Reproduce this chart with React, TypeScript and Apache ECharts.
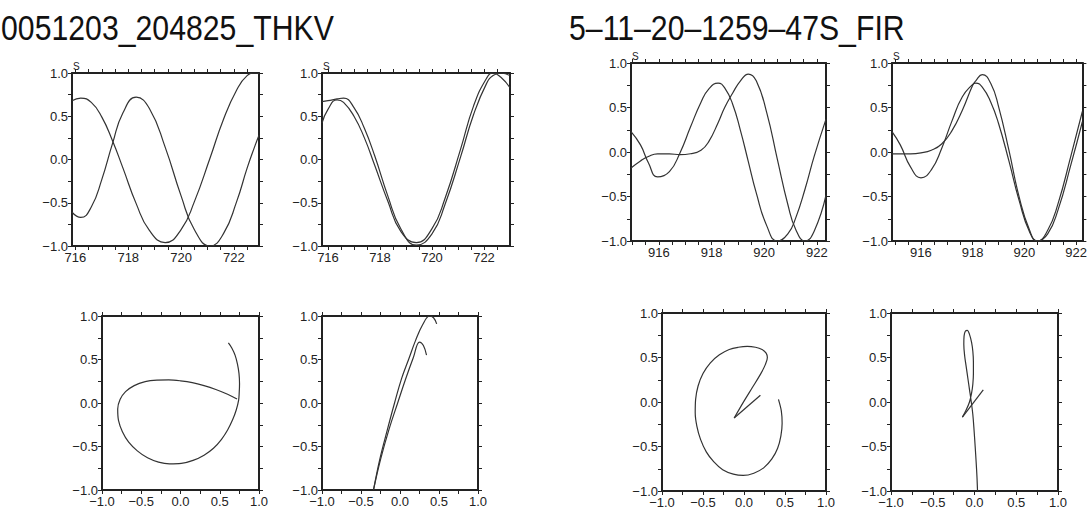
import React, { useEffect, useRef } from "react";
import * as echarts from "echarts";

// ---------------- data ----------------
const titleLeft = "0051203_204825_THKV";
const titleRight = "5–11–20–1259–47S_FIR";
const cornerLabel = "S";

// top-left panel (time vs amplitude)
const p1Time = [715.87, 716.2, 716.6, 717.0, 717.4, 717.8, 718.3, 718.8, 719.4, 720.0, 720.5, 721.1, 721.6, 722.1, 722.5, 722.8, 722.95];
const p1A = [0.68, 0.71, 0.66, 0.49, 0.22, -0.1, -0.51, -0.82, -0.96, -0.81, -0.49, 0.02, 0.46, 0.8, 0.97, 1.0, 0.99];
const p1B = [-0.61, -0.67, -0.55, -0.23, 0.18, 0.54, 0.72, 0.59, 0.14, -0.42, -0.81, -1.0, -0.86, -0.49, -0.1, 0.16, 0.28];

// top panel 2
const p2Time = [715.77, 716.0, 716.35, 716.6, 717.0, 717.4, 717.8, 718.3, 718.8, 719.4, 720.0, 720.5, 721.1, 721.6, 722.1, 722.35, 722.65, 723.0];
const p2A = [0.67, 0.68, 0.7, 0.71, 0.6, 0.36, 0.04, -0.42, -0.8, -0.99, -0.86, -0.52, 0.03, 0.52, 0.88, 0.97, 1.0, 0.97];
const p2B = [0.42, 0.58, 0.69, 0.66, 0.5, 0.25, -0.07, -0.48, -0.83, -0.96, -0.8, -0.45, 0.12, 0.62, 0.94, 1.0, 0.95, 0.83];

// top panel 3
const p3Time = [914.94, 915.3, 915.6, 915.95, 916.4, 916.8, 917.2, 917.6, 917.9, 918.25, 918.5, 918.8, 919.1, 919.4, 919.7, 920.1, 920.5, 920.9, 921.2, 921.56, 921.9, 922.35];
const p3A = [0.23, 0.08, -0.12, -0.28, -0.22, -0.01, 0.28, 0.56, 0.71, 0.775, 0.72, 0.54, 0.24, -0.11, -0.46, -0.83, -1.0, -0.92, -0.74, -0.41, -0.05, 0.37];
const p3B = [-0.18, -0.1, -0.05, -0.02, -0.02, -0.03, -0.02, 0.02, 0.12, 0.33, 0.5, 0.66, 0.8, 0.876, 0.8, 0.44, -0.08, -0.59, -0.87, -1.0, -0.89, -0.485];

// top panel 4
const p4Time = [914.88, 915.2, 915.6, 916.0, 916.4, 916.8, 917.2, 917.6, 918.0, 918.12, 918.37, 918.7, 919.0, 919.4, 919.8, 920.2, 920.5, 920.9, 921.3, 921.8, 922.24];
const p4A = [0.23, 0.08, -0.17, -0.29, -0.2, 0.04, 0.35, 0.62, 0.76, 0.775, 0.73, 0.56, 0.32, -0.1, -0.55, -0.9, -1.0, -0.88, -0.58, -0.04, 0.455];
const p4B = [-0.02, -0.02, -0.02, -0.01, 0.02, 0.09, 0.24, 0.47, 0.75, 0.8, 0.87, 0.77, 0.51, 0.02, -0.51, -0.88, -1.0, -0.92, -0.65, -0.14, 0.34];

// bottom panel 5 (particle motion)
const p5H = [0.61, 0.655, 0.695, 0.725, 0.745, 0.752, 0.748, 0.74, 0.71, 0.665, 0.6, 0.52, 0.42, 0.3, 0.16, 0.01, -0.14, -0.28, -0.42, -0.55, -0.66, -0.74, -0.79, -0.8, -0.77, -0.7, -0.59, -0.45, -0.3, -0.15, 0.0, 0.15, 0.3, 0.45, 0.6, 0.72];
const p5V = [0.69, 0.63, 0.55, 0.45, 0.34, 0.22, 0.12, 0.03, -0.08, -0.19, -0.31, -0.42, -0.52, -0.6, -0.66, -0.695, -0.7, -0.68, -0.63, -0.55, -0.45, -0.33, -0.2, -0.07, 0.04, 0.13, 0.2, 0.245, 0.262, 0.265, 0.255, 0.235, 0.2, 0.155, 0.1, 0.045];

// bottom panel 6
const p6H1 = [-0.34, -0.26, -0.16, -0.07, 0.02, 0.11, 0.2, 0.29, 0.38, 0.43, 0.47];
const p6V1 = [-1.0, -0.65, -0.3, 0.0, 0.28, 0.5, 0.72, 0.9, 1.0, 0.98, 0.91];
const p6H2 = [-0.34, -0.25, -0.14, -0.03, 0.07, 0.17, 0.25, 0.3, 0.34];
const p6V2 = [-1.0, -0.65, -0.3, 0.0, 0.27, 0.52, 0.7, 0.66, 0.55];

// bottom panel 7
const p7H1 = [0.2, -0.12];
const p7V1 = [0.075, -0.18];
const p7H2 = [-0.12, 0.0, 0.1, 0.2, 0.26, 0.285, 0.27, 0.22, 0.14, 0.04, -0.07, -0.18, -0.3, -0.41, -0.5, -0.56, -0.59, -0.595, -0.575, -0.53, -0.46, -0.37, -0.26, -0.13, -0.01, 0.12, 0.24, 0.34, 0.41, 0.45, 0.465, 0.455, 0.42];
const p7V2 = [-0.18, 0.01, 0.16, 0.31, 0.42, 0.5, 0.55, 0.59, 0.615, 0.625, 0.615, 0.59, 0.53, 0.44, 0.32, 0.18, 0.03, -0.12, -0.27, -0.42, -0.56, -0.67, -0.76, -0.81, -0.825, -0.8, -0.74, -0.64, -0.52, -0.38, -0.24, -0.1, 0.03];

// bottom panel 8
const p8H1 = [0.105, -0.145];
const p8V1 = [0.135, -0.17];
const p8H2 = [-0.145, -0.1, -0.06, -0.035, -0.02, -0.013, -0.013, -0.02, -0.035, -0.06, -0.085, -0.11, -0.125, -0.128, -0.118, -0.1, -0.08, -0.06, -0.04, -0.02, -0.005, 0.008, 0.02, 0.03, 0.036];
const p8V2 = [-0.17, -0.09, 0.0, 0.1, 0.2, 0.32, 0.45, 0.57, 0.67, 0.76, 0.805, 0.795, 0.74, 0.65, 0.52, 0.4, 0.27, 0.14, 0.01, -0.14, -0.32, -0.5, -0.68, -0.85, -1.0];

// tick labels
const timeLabels1 = [716, 718, 720, 722];
const timeTicks1 = [716, 716.5, 717, 717.5, 718, 718.5, 719, 719.5, 720, 720.5, 721, 721.5, 722, 722.5];
const timeLabels2 = [916, 918, 920, 922];
const timeTicks2 = [915, 915.5, 916, 916.5, 917, 917.5, 918, 918.5, 919, 919.5, 920, 920.5, 921, 921.5, 922];

// ---------------- layout / style ----------------
const INK = "#222";
const LINE = "#333";
const FONT = '"Liberation Sans", Arial, Helvetica, sans-serif';

type Panel = {
  left: number; top: number; width: number; height: number;
  xmin: number; xmax: number; time: boolean;
  labels?: number[]; ticks?: number[];
};

const panels: Panel[] = [
  { left: 72, top: 73, width: 187, height: 173, xmin: 715.87, xmax: 722.95, time: true, labels: timeLabels1, ticks: timeTicks1 },
  { left: 322, top: 73, width: 188, height: 173, xmin: 715.77, xmax: 723.0, time: true, labels: timeLabels1, ticks: timeTicks1 },
  { left: 631, top: 63, width: 195, height: 178, xmin: 914.94, xmax: 922.35, time: true, labels: timeLabels2, ticks: timeTicks2 },
  { left: 892, top: 63, width: 195, height: 178, xmin: 914.88, xmax: 922.24, time: true, labels: timeLabels2, ticks: timeTicks2 },
  { left: 102, top: 316, width: 157, height: 174, xmin: -1, xmax: 1, time: false },
  { left: 322, top: 316, width: 156, height: 174, xmin: -1, xmax: 1, time: false },
  { left: 662, top: 313, width: 164, height: 178, xmin: -1, xmax: 1, time: false },
  { left: 891, top: 313, width: 167, height: 178, xmin: -1, xmax: 1, time: false },
];

const zip = (a: number[], b: number[]) => a.map((v, i) => [v, b[i]]);
const fmt = (v: number) => (v < 0 ? "\u2212" : "") + Math.abs(v).toFixed(1);

const curves: { panel: number; data: number[][]; smooth: number | boolean }[] = [
  { panel: 0, data: zip(p1Time, p1A), smooth: 0.5 },
  { panel: 0, data: zip(p1Time, p1B), smooth: 0.5 },
  { panel: 1, data: zip(p2Time, p2A), smooth: 0.5 },
  { panel: 1, data: zip(p2Time, p2B), smooth: 0.5 },
  { panel: 2, data: zip(p3Time, p3A), smooth: 0.5 },
  { panel: 2, data: zip(p3Time, p3B), smooth: 0.5 },
  { panel: 3, data: zip(p4Time, p4A), smooth: 0.5 },
  { panel: 3, data: zip(p4Time, p4B), smooth: 0.5 },
  { panel: 4, data: zip(p5H, p5V), smooth: 0.35 },
  { panel: 5, data: zip(p6H1, p6V1), smooth: 0.4 },
  { panel: 5, data: zip(p6H2, p6V2), smooth: 0.4 },
  { panel: 6, data: zip(p7H1, p7V1), smooth: false },
  { panel: 6, data: zip(p7H2, p7V2), smooth: 0.35 },
  { panel: 7, data: zip(p8H1, p8V1), smooth: false },
  { panel: 7, data: zip(p8H2, p8V2), smooth: 0.35 },
];

function buildOption() {
  const grid: any[] = [];
  const xAxis: any[] = [];
  const yAxis: any[] = [];
  const labelStyle = { fontSize: 13, color: INK, fontFamily: FONT };
  const axisLine = { show: true, onZero: false, lineStyle: { color: INK, width: 2 } };

  panels.forEach((p, i) => {
    grid.push({ left: p.left, top: p.top, width: p.width, height: p.height, containLabel: false });
    ["bottom", "top"].forEach((pos, k) => {
      if (p.time) {
        xAxis.push({
          type: "value", gridIndex: i, position: pos, min: p.xmin, max: p.xmax,
          axisLine, splitLine: { show: false },
          axisTick: { show: true, inside: false, length: 4, customValues: p.ticks, lineStyle: { color: INK, width: 1 } },
          axisLabel: k === 0
            ? { show: true, customValues: p.labels, margin: 5, formatter: (v: number) => String(Math.round(v)), ...labelStyle }
            : { show: false },
        });
      } else {
        xAxis.push({
          type: "value", gridIndex: i, position: pos, min: -1, max: 1, interval: 0.5,
          axisLine, splitLine: { show: false },
          axisTick: { show: true, inside: false, length: 4, lineStyle: { color: INK, width: 1 } },
          minorTick: { show: true, splitNumber: 2, length: 4, lineStyle: { color: INK, width: 1 } },
          axisLabel: k === 0 ? { show: true, margin: 5, formatter: fmt, ...labelStyle } : { show: false },
        });
      }
    });
    ["left", "right"].forEach((pos, k) => {
      yAxis.push({
        type: "value", gridIndex: i, position: pos, min: -1, max: 1, interval: 0.5,
        axisLine, splitLine: { show: false },
        axisTick: { show: true, inside: false, length: 4, lineStyle: { color: INK, width: 1 } },
        minorTick: { show: true, splitNumber: 2, length: 4, lineStyle: { color: INK, width: 1 } },
        axisLabel: k === 0 ? { show: true, margin: 4, formatter: fmt, ...labelStyle } : { show: false },
      });
    });
  });

  const series = curves.map((c) => ({
    type: "line",
    xAxisIndex: c.panel * 2,
    yAxisIndex: c.panel * 2,
    data: c.data,
    showSymbol: false,
    smooth: c.smooth,
    clip: true,
    silent: true,
    lineStyle: { color: LINE, width: 1.2 },
  }));

  const titleFont = `36px ${FONT}`;
  const graphic: any[] = [
    {
      type: "group", x: 1, y: 28, scaleX: 0.84,
      children: [{ type: "text", style: { text: titleLeft, x: 0, y: 0, font: titleFont, fill: "#111", align: "left", verticalAlign: "middle", textAlign: "left", textVerticalAlign: "middle" } }],
    },
    {
      type: "group", x: 569, y: 28, scaleX: 0.84,
      children: [{ type: "text", style: { text: titleRight, x: 0, y: 0, font: titleFont, fill: "#111", align: "left", verticalAlign: "middle", textAlign: "left", textVerticalAlign: "middle" } }],
    },
  ];
  [0, 1, 2, 3].forEach((i) => {
    const p = panels[i];
    graphic.push({
      type: "text", x: p.left + 1, y: p.top - 2, z: 50,
      style: { text: cornerLabel, font: `10px ${FONT}`, fill: INK, align: "left", verticalAlign: "bottom", textAlign: "left", textVerticalAlign: "bottom" },
    });
  });

  return { animation: false, backgroundColor: "#fff", grid, xAxis, yAxis, series, graphic };
}

export default function App() {
  const ref = useRef<HTMLDivElement>(null);
  useEffect(() => {
    if (!ref.current) return;
    const chart = echarts.init(ref.current, null, { renderer: "svg" });
    chart.setOption(buildOption() as any);
    return () => chart.dispose();
  }, []);
  return <div ref={ref} style={{ position: "absolute", left: 0, top: 0, width: 1090, height: 515, background: "#fff" }} />;
}
